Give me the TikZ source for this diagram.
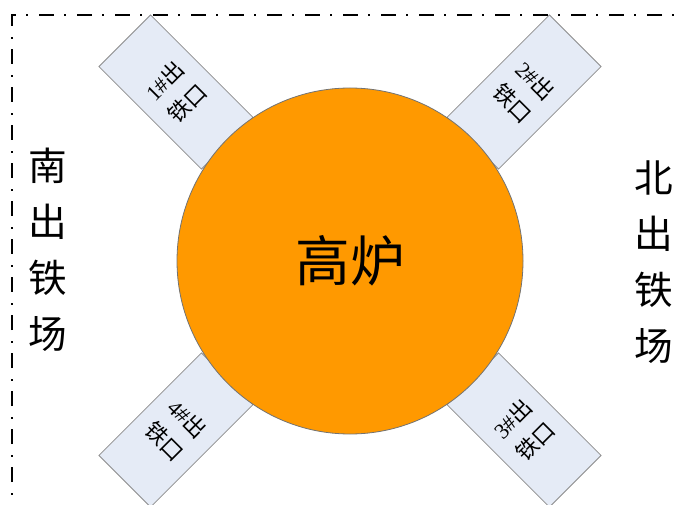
\documentclass[tikz,border=0pt]{standalone}
\usepackage{fontspec}
\setmainfont{Liberation Serif}
\newfontfamily\cjk{Noto Sans CJK SC}
\definecolor{furnace}{RGB}{255,153,0}
\definecolor{tapfill}{RGB}{229,235,246}
\definecolor{tapline}{RGB}{140,140,140}
\usetikzlibrary{positioning}

\begin{document}
\begin{tikzpicture}[x=0.75pt,y=-0.75pt]
        \tikzset{taphole/.style={rectangle, draw=tapline, fill=tapfill, line width=0.6pt,
            minimum width=54.75pt, minimum height=108.75pt, inner sep=0pt, align=center,
            font=\fontsize{16.5}{24}\selectfont},
          yard/.style={align=center, font=\cjk\fontsize{29}{42}\selectfont},
          bound/.style={line width=1.5pt, dash pattern=on 11pt off 8pt on 1.5pt off 8pt}}
        \useasboundingbox (0,0) rectangle (680,505);
        \clip (0,0) rectangle (680,505);
        % Cast house boundary
        \draw[bound] (12,520) -- (12,15) -- (700,15);
        % Tap holes
        \node[taphole, rotate=45]  (t1) at (176,92)  {1\#{\cjk 出}\\{\cjk 铁口}};
        \node[taphole, rotate=-45] (t2) at (524,92)  {2\#{\cjk 出}\\{\cjk 铁口}};
        \node[taphole, rotate=45]  (t3) at (524,430) {3\#{\cjk 出}\\{\cjk 铁口}};
        \node[taphole, rotate=-45] (t4) at (176,430) {4\#{\cjk 出}\\{\cjk 铁口}};
        % Furnace
        \node[circle, minimum size=259.5pt, inner sep=0pt, fill=furnace, draw=black!55,
          line width=0.6pt, font=\cjk\fontsize{41}{41}\selectfont] (bf) at (350,261) {高炉};
        % Cast yards
        \node[yard] (south) at (48,250)  {南\\出\\铁\\场};
        \node[yard] (north) at (654,262) {北\\出\\铁\\场};
      \end{tikzpicture}
\end{document}
